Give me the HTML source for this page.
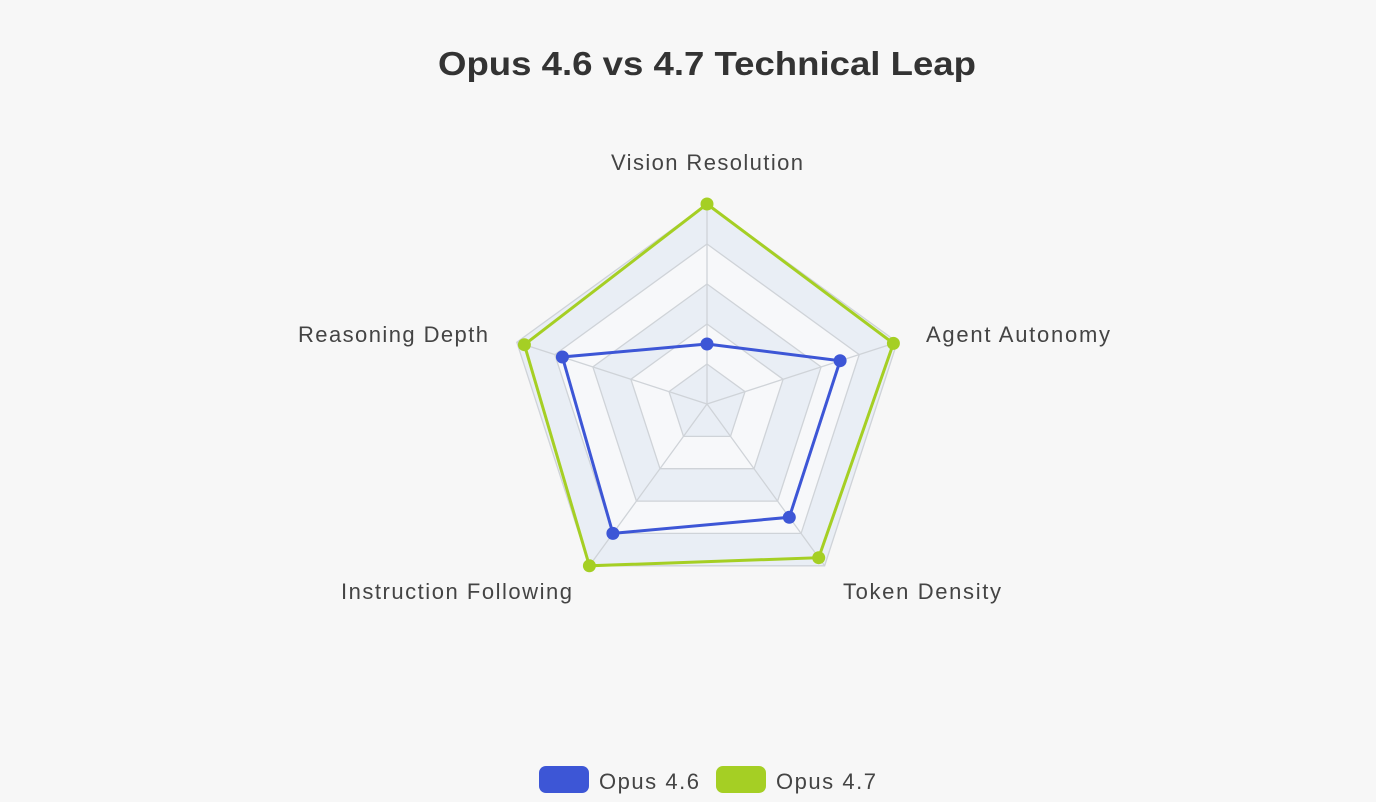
<!DOCTYPE html>
<html><head><meta charset="utf-8"><style>
html,body{margin:0;padding:0;background:#f7f7f7;}
svg{display:block;font-family:"Liberation Sans",Arial,sans-serif;}
</style></head><body>
<svg width="1376" height="802" viewBox="0 0 1376 802">
<rect width="1376" height="802" fill="#f7f7f7"/>
<text x="438" y="75" font-size="33" font-weight="bold" fill="#333" textLength="538" lengthAdjust="spacingAndGlyphs">Opus 4.6 vs 4.7 Technical Leap</text>
<polygon points="707,204 897.2,342.2 824.6,565.8 589.4,565.8 516.8,342.2" fill="#e9eef5"/>
<polygon points="707,244 859.2,354.6 801.1,533.4 612.9,533.4 554.8,354.6" fill="#f7f8fa"/>
<polygon points="707,284 821.1,366.9 777.6,501.1 636.4,501.1 592.9,366.9" fill="#e9eef5"/>
<polygon points="707,324 783.1,379.3 754,468.7 660,468.7 630.9,379.3" fill="#f7f8fa"/>
<polygon points="707,364 745,391.6 730.5,436.4 683.5,436.4 669,391.6" fill="#e9eef5"/>
<g fill="none" stroke="#cfd3d8" stroke-width="1.3">
<polygon points="707,204 897.2,342.2 824.6,565.8 589.4,565.8 516.8,342.2"/>
<polygon points="707,244 859.2,354.6 801.1,533.4 612.9,533.4 554.8,354.6"/>
<polygon points="707,284 821.1,366.9 777.6,501.1 636.4,501.1 592.9,366.9"/>
<polygon points="707,324 783.1,379.3 754,468.7 660,468.7 630.9,379.3"/>
<polygon points="707,364 745,391.6 730.5,436.4 683.5,436.4 669,391.6"/>
<line x1="707" y1="404" x2="707" y2="204"/>
<line x1="707" y1="404" x2="897.2" y2="342.2"/>
<line x1="707" y1="404" x2="824.6" y2="565.8"/>
<line x1="707" y1="404" x2="589.4" y2="565.8"/>
<line x1="707" y1="404" x2="516.8" y2="342.2"/>
</g>
<polygon points="707,344 840.1,360.7 789.3,517.3 612.9,533.4 562.4,357" fill="none" stroke="#3d56d6" stroke-width="3"/>
<g fill="#3d56d6">
<circle cx="707" cy="344" r="6.5"/><circle cx="840.1" cy="360.7" r="6.5"/><circle cx="789.3" cy="517.3" r="6.5"/><circle cx="612.9" cy="533.4" r="6.5"/><circle cx="562.4" cy="357" r="6.5"/>
</g>
<polygon points="707,204 893.4,343.4 818.7,557.7 589.4,565.8 524.4,344.7" fill="none" stroke="#a5cf24" stroke-width="3"/>
<g fill="#a5cf24">
<circle cx="707" cy="204" r="6.5"/><circle cx="893.4" cy="343.4" r="6.5"/><circle cx="818.7" cy="557.7" r="6.5"/><circle cx="589.4" cy="565.8" r="6.5"/><circle cx="524.4" cy="344.7" r="6.5"/>
</g>
<g font-size="22" fill="#444" lengthAdjust="spacingAndGlyphs">
<text x="611" y="170" textLength="192">Vision Resolution</text>
<text x="926" y="342" textLength="184">Agent Autonomy</text>
<text x="298" y="342" textLength="190">Reasoning Depth</text>
<text x="843" y="599" textLength="158">Token Density</text>
<text x="341" y="599" textLength="231">Instruction Following</text>
<text x="599" y="789" textLength="100">Opus 4.6</text>
<text x="776" y="789" textLength="100">Opus 4.7</text>
</g>
<rect x="539" y="766" width="50" height="27" rx="7" fill="#3d56d6"/>
<rect x="716" y="766" width="50" height="27" rx="7" fill="#a5cf24"/>
</svg>
</body></html>
